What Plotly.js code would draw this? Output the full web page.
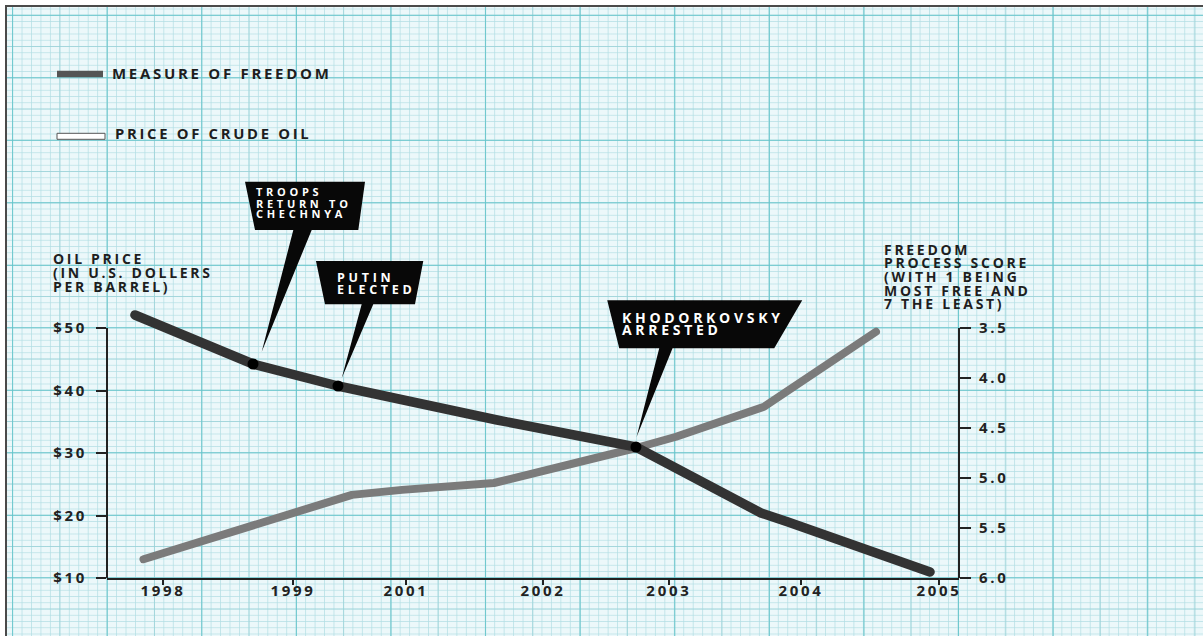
<!DOCTYPE html>
<html><head><meta charset="utf-8">
<script src="https://cdn.plot.ly/plotly-3.0.1.min.js"></script>
<style>
html,body{margin:0;padding:0;background:#fff;width:1203px;height:636px;overflow:hidden;}
#paper{position:absolute;left:5px;top:5px;width:1198px;height:631px;
 border-top:2px solid #4a4a4a;border-left:2px solid #4a4a4a;
 background-color:#ecf8fa;
 background-image:
  linear-gradient(to right, rgba(95,196,202,0.8) 1.3px, transparent 1.3px),
  linear-gradient(to bottom, rgba(95,196,202,0.8) 1.3px, transparent 1.3px),
  linear-gradient(to right, rgba(150,208,214,0.7) 1px, transparent 1px),
  linear-gradient(to bottom, rgba(150,208,214,0.7) 1px, transparent 1px),
  linear-gradient(to right, rgba(178,222,228,0.75) 1px, transparent 1px),
  linear-gradient(to bottom, rgba(178,222,228,0.75) 1px, transparent 1px);
 background-size:94.6px 100%,100% 62.5px,47.3px 100%,100% 31.25px,9.46px 100%,100% 6.25px;
 background-position:5.1px 0,0 7.8px,5.1px 0,0 7.8px,5.1px 0,0 1.55px;}
#chart{position:absolute;left:0;top:0;width:1203px;height:636px;}
text{letter-spacing:2.7px;}
text[style*="fill: rgb(255, 255, 255)"]{letter-spacing:3.7px;}
.scatterlayer .js-line{stroke-linecap:round;stroke-linejoin:round;}
</style></head><body>
<div id="paper"></div><div id="chart"></div>
<script>
// ---------- data ----------
const tickPos   = [0, 1.005, 1.879, 2.938, 3.912, 4.933, 6];
const tickYears = ['1998', '1999', '2001', '2002', '2003', '2004', '2005'];

const freedomX     = [-0.217, 0.696, 1.353, 2.583, 3.657, 4.624, 4.833, 5.931];
const freedomScore = [3.37, 3.86, 4.08, 4.42, 4.69, 5.35, 5.44, 5.94];

const oilX     = [-0.151, 1.021, 1.461, 1.848, 2.559, 3.657, 3.967, 4.647, 5.513];
const oilPrice = [13.0, 20.4, 23.3, 24.1, 25.2, 30.8, 32.6, 37.4, 49.4];

const priceTicks  = [10, 20, 30, 40, 50];
const priceLabels = ['$10', '$20', '$30', '$40', '$50'];
const scoreTicks  = [3.5, 4.0, 4.5, 5.0, 5.5, 6.0];
const scoreLabels = ['3.5', '4.0', '4.5', '5.0', '5.5', '6.0'];

const eventIndex = [1, 2, 4];
const eventLines = [['TROOPS', 'RETURN TO', 'CHECHNYA'], ['PUTIN', 'ELECTED'], ['KHODORKOVSKY', 'ARRESTED']];

const legendNames = ['MEASURE OF FREEDOM', 'PRICE OF CRUDE OIL'];
const oilTitle = ['OIL PRICE', '(IN U.S. DOLLERS', 'PER BARREL)'];
const freedomTitle = ['FREEDOM', 'PROCESS SCORE', '(WITH 1 BEING', 'MOST FREE AND', '7 THE LEAST)'];

// ---------- layout helpers (page pixels -> paper) ----------
const L = 107, R = 959, T = 10, B = 578;
const W = 1203, H = 636;
const px = v => (v - L) / (R - L);
const py = v => (B - v) / (B - T);
const FONT = '"Open Sans", Lato, sans-serif';

// callout geometry: pixel offsets from the event point (y up)
const calloutStyle = [
  {box: [[-8,182.3],[112,182.3],[105.3,134],[2,134]], wedge: [[40.3,134],[58.7,134],[8.7,12.3]],
   text: {dx: 1, dy: [172.3, 161, 150.5], size: 11}},
  {box: [[-22,125],[85.3,125],[77,81.7],[-13,81.7]], wedge: [[23.7,81.7],[35.3,81.7],[3.7,7.7]],
   text: {dx: -3, dy: [109, 96.7], size: 12.5}},
  {box: [[-28.7,146.7],[166.3,146.7],[138.3,98.7],[-16.7,98.7]], wedge: [[23.3,98.7],[36.6,98.7],[0.6,10]],
   text: {dx: -16, dy: [130, 117.4], size: 14}}
];
const poly = pts => 'M' + pts.map(p => p[0] + ',' + p[1]).join(' L') + ' Z';

const shapes = [];
const annotations = [];

eventIndex.forEach((idx, k) => {
  const st = calloutStyle[k];
  shapes.push({type: 'path', xref: 'x', yref: 'y2', xsizemode: 'pixel', ysizemode: 'pixel',
    xanchor: freedomX[idx], yanchor: freedomScore[idx],
    path: poly(st.box) + ' ' + poly(st.wedge),
    fillcolor: '#080808', line: {width: 0}, layer: 'above'});
  eventLines[k].forEach((txt, j) => {
    annotations.push({xref: 'x', yref: 'y2', x: freedomX[idx], y: freedomScore[idx],
      xanchor: 'left', yanchor: 'middle', xshift: st.text.dx, yshift: st.text.dy[j],
      showarrow: false, text: txt, align: 'left',
      font: {family: FONT, size: st.text.size, color: '#ffffff', weight: 700}});
  });
});

// axis lines for the two value axes (only across the tick span)
shapes.push({type: 'line', xref: 'paper', yref: 'y', x0: 0, x1: 0,
  y0: priceTicks[0], y1: priceTicks[priceTicks.length - 1], line: {color: '#222', width: 2}});
shapes.push({type: 'line', xref: 'paper', yref: 'y2', x0: 1, x1: 1,
  y0: scoreTicks[scoreTicks.length - 1], y1: scoreTicks[0], line: {color: '#222', width: 2}});

// legend swatches
shapes.push({type: 'rect', xref: 'paper', yref: 'paper', x0: px(57), x1: px(103), y0: py(77.3), y1: py(70.7),
  fillcolor: '#555555', line: {width: 0}});
shapes.push({type: 'rect', xref: 'paper', yref: 'paper', x0: px(57), x1: px(105), y0: py(139.3), y1: py(133.3),
  fillcolor: '#ffffff', line: {color: '#555555', width: 1}});

const textFont = {family: FONT, size: 14.5, color: '#1e1e1e', weight: 700};
const addText = (txt, x, y, size) => annotations.push({xref: 'paper', yref: 'paper', x: px(x), y: py(y),
  xanchor: 'left', yanchor: 'middle', showarrow: false, text: txt, align: 'left',
  font: Object.assign({}, textFont, size ? {size: size} : {})});

addText(legendNames[0], 110, 73, 15);
addText(legendNames[1], 113, 133, 14.8);
[258.7, 272.3, 286.7].forEach((y, i) => addText(oilTitle[i], 51, y, 14));
[249.3, 262.9, 276.5, 290.1, 303.7].forEach((y, i) => addText(freedomTitle[i], 882, y, 14));

const traces = [
  {x: oilX, y: oilPrice, yaxis: 'y', type: 'scatter', mode: 'lines',
   line: {color: '#7b7b7b', width: 8}, name: legendNames[1]},
  {x: freedomX, y: freedomScore, yaxis: 'y2', type: 'scatter', mode: 'lines',
   line: {color: '#333333', width: 9.5}, name: legendNames[0]},
  {x: eventIndex.map(i => freedomX[i]), y: eventIndex.map(i => freedomScore[i]), yaxis: 'y2',
   type: 'scatter', mode: 'markers', marker: {color: '#000', size: 11}, cliponaxis: false}
];

const tickFont = {family: FONT, size: 15, color: '#222', weight: 700};
const layout = {
  width: W, height: H,
  margin: {l: L, r: W - R, t: T, b: H - B, pad: 0},
  paper_bgcolor: 'rgba(0,0,0,0)', plot_bgcolor: 'rgba(0,0,0,0)',
  showlegend: false, hovermode: false,
  xaxis: {range: [-0.433, 6.155], tickvals: tickPos, ticktext: tickYears,
    ticks: 'outside', ticklen: 5, tickwidth: 2, tickcolor: '#222', ticklabelstandoff: -7,
    showline: true, linewidth: 2, linecolor: '#222', showgrid: false, zeroline: false,
    tickfont: tickFont, automargin: false, fixedrange: true},
  yaxis: {range: [10, 10 + (B - T) * 0.16], tickvals: priceTicks, ticktext: priceLabels,
    ticks: 'outside', ticklen: 10, tickwidth: 2, tickcolor: '#222', ticklabelstandoff: 6,
    showline: false, showgrid: false, zeroline: false, tickfont: tickFont, automargin: false, fixedrange: true},
  yaxis2: {overlaying: 'y', side: 'right', anchor: 'x',
    range: [6.0, 6.0 - (B - T) * 0.01], tickvals: scoreTicks, ticktext: scoreLabels,
    ticks: 'outside', ticklen: 11, tickwidth: 2, tickcolor: '#222', ticklabelstandoff: 5,
    showline: false, showgrid: false, zeroline: false, tickfont: tickFont, automargin: false, fixedrange: true},
  shapes: shapes,
  annotations: annotations
};

Plotly.newPlot('chart', traces, layout, {displayModeBar: false, staticPlot: true});
</script>
</body></html>
